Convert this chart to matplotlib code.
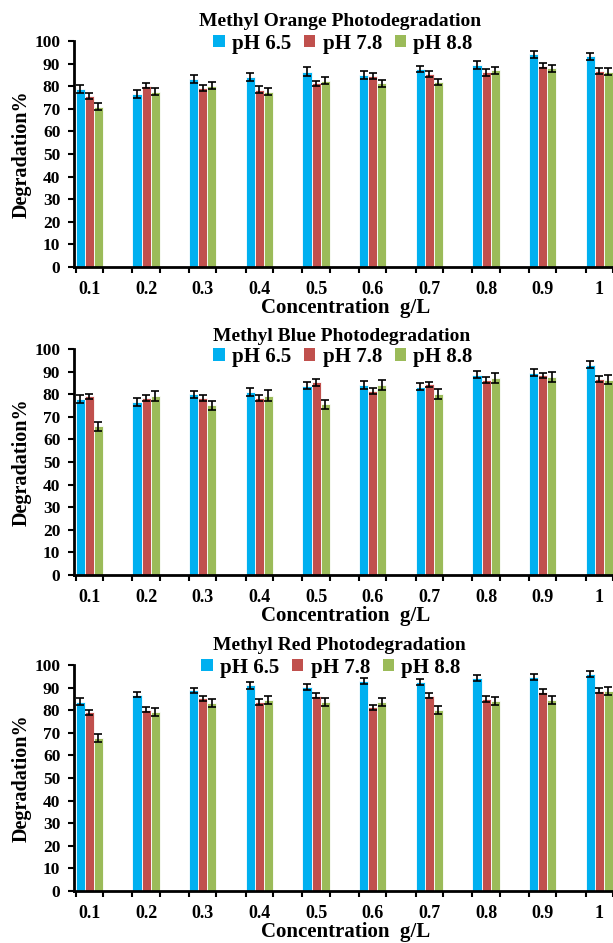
import numpy as np
import matplotlib
matplotlib.use('Agg')
import matplotlib.pyplot as plt
from matplotlib.patches import Patch

plt.rcParams['font.family'] = 'Liberation Serif'
plt.rcParams['font.weight'] = 'bold'

# concentrations (g/L)
conc = ['0.1', '0.2', '0.3', '0.4', '0.5', '0.6', '0.7', '0.8', '0.9', '1']
ph_labels = ['pH 6.5', 'pH 7.8', 'pH 8.8']
colors = ['#00B0F0', '#C0504D', '#9BBB59']

# Methyl Orange
mo_65 = [78.8, 76.7, 83.1, 84.1, 86.5, 84.9, 87.6, 89.5, 94.1, 93.2]
mo_78 = [75.7, 80.3, 79.3, 78.4, 81.2, 84.6, 85.5, 86.1, 89.0, 86.7]
mo_88 = [70.9, 77.6, 80.3, 77.6, 82.5, 81.3, 81.9, 87.0, 87.9, 86.5]
mo_65_err = [1.9, 1.8, 1.8, 1.9, 1.9, 1.7, 1.5, 1.8, 1.6, 1.7]
mo_78_err = [1.3, 1.3, 1.4, 1.6, 1.3, 1.3, 1.4, 1.4, 1.1, 1.4]
mo_88_err = [1.6, 1.6, 1.6, 1.6, 1.6, 1.6, 1.4, 1.6, 1.6, 1.6]

# Methyl Blue
mb_65 = [77.9, 76.7, 80.0, 81.0, 83.7, 84.0, 83.3, 88.6, 89.6, 93.0]
mb_78 = [79.1, 78.5, 78.4, 78.2, 85.2, 81.5, 84.4, 86.3, 88.3, 86.8]
mb_88 = [65.8, 79.1, 75.1, 79.4, 75.5, 84.0, 80.0, 87.3, 87.7, 86.5]
mb_65_err = [1.6, 1.7, 1.5, 1.6, 1.6, 1.8, 1.6, 1.5, 1.5, 1.6]
mb_78_err = [1.2, 1.3, 1.2, 1.3, 1.4, 1.2, 1.2, 1.3, 1.2, 1.4]
mb_88_err = [2.0, 2.2, 2.1, 2.3, 2.0, 2.2, 2.2, 2.3, 2.2, 2.2]

# Methyl Red
mr_65 = [83.8, 86.9, 88.8, 91.0, 90.4, 92.9, 92.4, 94.3, 94.6, 96.0]
mr_78 = [79.1, 80.1, 85.3, 83.5, 86.5, 81.3, 86.5, 85.0, 88.2, 88.7]
mr_88 = [67.8, 79.1, 83.2, 84.4, 83.8, 83.8, 79.9, 84.0, 84.7, 88.5]
mr_65_err = [1.4, 1.2, 1.2, 1.4, 1.3, 1.3, 1.2, 1.3, 1.4, 1.2]
mr_78_err = [1.1, 1.1, 1.1, 1.3, 1.2, 1.0, 1.2, 1.2, 1.0, 1.1]
mr_88_err = [1.8, 1.8, 1.8, 1.8, 1.8, 1.8, 1.8, 1.7, 1.8, 1.7]

panels = [
    ('Methyl Orange Photodegradation', [mo_65, mo_78, mo_88], [mo_65_err, mo_78_err, mo_88_err]),
    ('Methyl Blue Photodegradation', [mb_65, mb_78, mb_88], [mb_65_err, mb_78_err, mb_88_err]),
    ('Methyl Red Photodegradation', [mr_65, mr_78, mr_88], [mr_65_err, mr_78_err, mr_88_err]),
]

W, H = 613, 943
fig = plt.figure(figsize=(W / 100, H / 100), dpi=100)

# axes top / bottom in pixels, title y, legend y, legend x
boxes = [(41, 267, 21.7, 43.5, 343), (349, 575, 336.7, 357, 343), (665, 891, 645, 667.5, 331)]
title_x = [340, 342, 339]

x = np.arange(len(conc))
bw = 0.16

for i, (title, series, errs) in enumerate(panels):
    top, bot, ty, ly, lx = boxes[i]
    ax = fig.add_axes([73.5 / W, 1 - bot / H, 1 - 73.5 / W, (bot - top) / H])
    for k in range(3):
        ax.bar(x + (k - 1) * bw, series[k], bw, color=colors[k], edgecolor='white',
               linewidth=0.6, yerr=errs[k], capsize=2.8,
               error_kw=dict(ecolor='black', elinewidth=1.2, capthick=1.2))
    ax.set_xlim(-0.28, 9.15)
    ax.set_ylim(0, 100)
    ax.set_yticks(range(0, 101, 10))
    ax.set_xticks(x)
    ax.set_xticklabels(conc)
    ax.set_xticks(np.concatenate([x - 1.5 * bw, x + 1.5 * bw]), minor=True)
    ax.tick_params(axis='x', which='major', length=0, pad=10, labelsize=13)
    ax.tick_params(axis='x', which='minor', length=4.5, width=1.5, direction='out')
    ax.tick_params(axis='y', length=4.5, width=1.5, pad=5, labelsize=12.5)
    for s in ['top', 'right']:
        ax.spines[s].set_visible(False)
    for s in ['left', 'bottom']:
        ax.spines[s].set_linewidth(2)
    ax.set_xlabel('Concentration  g/L', fontsize=15, fontweight='bold', va='center')
    ax.xaxis.set_label_coords(0.505, -41 / (bot - top))
    ax.set_ylabel('Degradation%', fontsize=14.5, fontweight='bold', va='center')
    ax.yaxis.set_label_coords((22 - 73.5) / (W - 73.5), 0.5)
    fig.text(title_x[i] / W, 1 - ty / H, title, ha='center', va='center',
             fontsize=14, fontweight='bold')
    handles = [Patch(facecolor=c, edgecolor='none') for c in colors]
    fig.legend(handles, ph_labels, ncol=3, loc='center', bbox_to_anchor=(lx / W, 1 - ly / H),
               frameon=False, fontsize=15, handlelength=0.55, handleheight=0.55,
               handletextpad=0.35, columnspacing=0.6, borderpad=0, borderaxespad=0)

fig.savefig('out.png', dpi=100)
